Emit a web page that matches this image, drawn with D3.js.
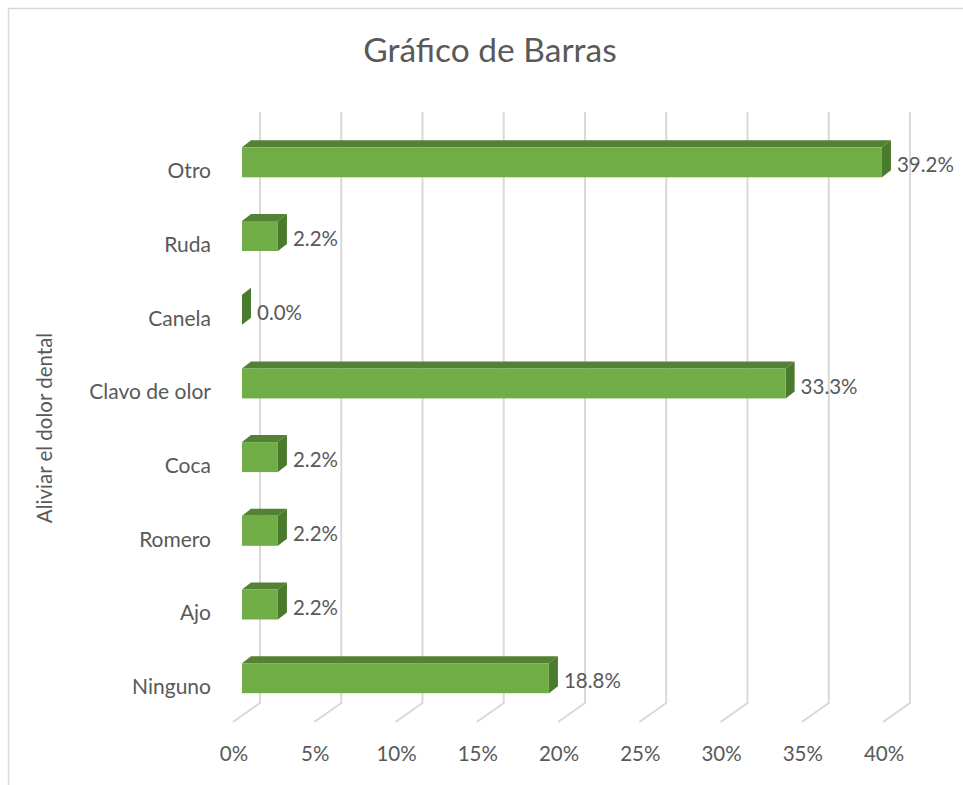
<!DOCTYPE html>
<html>
<head>
<meta charset="utf-8">
<script src="https://cdn.jsdelivr.net/npm/d3@7"></script>
<style>
  html, body { margin: 0; padding: 0; background: #fff; }
  svg { display: block; }
  text { font-family: Lato, "Open Sans", sans-serif; fill: #595959; }
</style>
</head>
<body>
<svg id="chart" width="963" height="785"></svg>
<script>
const categories = ["Otro", "Ruda", "Canela", "Clavo de olor", "Coca", "Romero", "Ajo", "Ninguno"];
const values = [39.2, 2.2, 0.0, 33.3, 2.2, 2.2, 2.2, 18.8];
const tickValues = [0, 5, 10, 15, 20, 25, 30, 35, 40];
const tickLabels = ["0%", "5%", "10%", "15%", "20%", "25%", "30%", "35%", "40%"];
const title = "Gráfico de Barras";
const axisTitle = "Aliviar el dolor dental";

const svg = d3.select("#chart");

// outer frame
svg.append("rect").attr("x", 8.5).attr("y", 8.5).attr("width", 1000).attr("height", 1000)
  .attr("fill", "none").attr("stroke", "#d9d9d9").attr("stroke-width", 1.5);

// scales
const xFront = d3.scaleLinear().domain([0, 40]).range([242, 895]);
const xBack = d3.scaleLinear().domain([0, 40]).range([260, 910]);
const y = d3.scaleBand().domain(categories).range([125.45, 715.05])
  .paddingInner(0.593).paddingOuter(0.2965);

const wallTop = 112, wallBottom = 703, floorDx = -27, floorDy = 19;
const depthDx = 9, depthDy = -7;

// title
svg.append("text").attr("x", 490).attr("y", 62).attr("text-anchor", "middle")
  .style("font-size", "33.5px").text(title);

// gridlines (back wall + floor)
const grid = svg.append("g");
tickValues.forEach(t => {
  const xb = xBack(t);
  grid.append("path")
    .attr("d", `M${xb},${wallTop}V${wallBottom}L${xb + floorDx},${wallBottom + floorDy}`)
    .attr("fill", "none").attr("stroke", "#d9d9d9").attr("stroke-width", 2);
});

// tick labels
svg.append("g").selectAll("text").data(tickValues).join("text")
  .attr("x", d => xBack(d) + floorDx + 1).attr("y", 761)
  .attr("text-anchor", "middle").style("font-size", "20.5px")
  .text((d, i) => tickLabels[i]);

// bars
const bars = svg.append("g").selectAll("g").data(categories).join("g");
bars.each(function(c, i) {
  const g = d3.select(this);
  const v = values[i];
  const x0 = xFront(0), x1 = xFront(v);
  const yt = y(c), yb = y(c) + y.bandwidth();
  if (v > 0) {
    g.append("path")
      .attr("d", `M${x0},${yt}L${x0 + depthDx},${yt + depthDy}L${x1 + depthDx},${yt + depthDy}L${x1},${yt}Z`)
      .attr("fill", "#548235");
  }
  g.append("path")
    .attr("d", `M${x1},${yt}L${x1 + depthDx},${yt + depthDy}L${x1 + depthDx},${yb + depthDy}L${x1},${yb}Z`)
    .attr("fill", "#4a7a2c");
  if (v > 0) {
    g.append("rect").attr("x", x0).attr("y", yt).attr("width", x1 - x0).attr("height", y.bandwidth())
      .attr("fill", "#70ad47");
  }
  g.append("text").attr("x", x1 + depthDx + 6).attr("y", yt + y.bandwidth() / 2 + 3)
    .attr("dy", "0.35em").style("font-size", "20.5px")
    .text(v.toFixed(1) + "%");
});

// category labels
svg.append("g").selectAll("text").data(categories).join("text")
  .attr("x", 211).attr("y", d => y(d) + y.bandwidth() / 2 + 8.5)
  .attr("dy", "0.35em").attr("text-anchor", "end").style("font-size", "21px")
  .text(d => d);

// axis title
svg.append("text").attr("transform", "translate(52,428) rotate(-90)")
  .attr("text-anchor", "middle").style("font-size", "20.5px").text(axisTitle);
</script>
</body>
</html>
